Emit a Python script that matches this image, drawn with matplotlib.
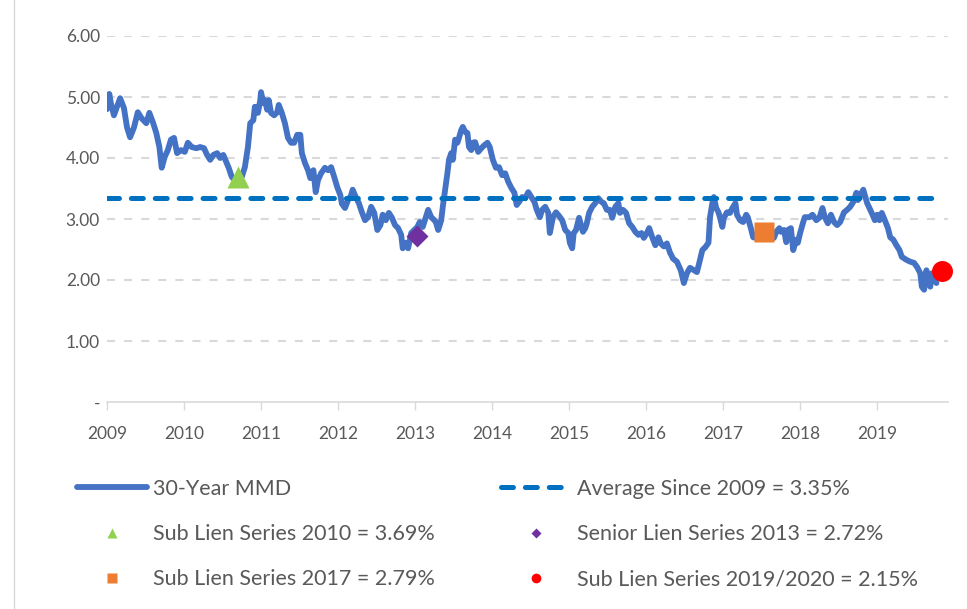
import matplotlib
matplotlib.use('Agg')
import matplotlib.pyplot as plt
from matplotlib.lines import Line2D

# 30-Year MMD (decimal year, yield %)
mmd_year = [
    2009.00, 2009.03, 2009.05, 2009.09, 2009.13, 2009.17, 2009.22, 2009.26, 2009.30, 2009.35,
    2009.40, 2009.45, 2009.51, 2009.55, 2009.60, 2009.64, 2009.68, 2009.71, 2009.75, 2009.79,
    2009.83, 2009.87, 2009.91, 2009.96, 2010.01, 2010.05, 2010.10, 2010.16, 2010.21, 2010.26,
    2010.30, 2010.34, 2010.38, 2010.43, 2010.47, 2010.51, 2010.55, 2010.58, 2010.62, 2010.66,
    2010.71, 2010.75, 2010.79, 2010.83, 2010.86, 2010.90, 2010.92, 2010.96, 2010.99, 2011.00,
    2011.03, 2011.05, 2011.08, 2011.10, 2011.13, 2011.17, 2011.21, 2011.23, 2011.27, 2011.31,
    2011.35, 2011.39, 2011.43, 2011.47, 2011.51, 2011.53, 2011.57, 2011.61, 2011.64, 2011.68,
    2011.71, 2011.74, 2011.78, 2011.83, 2011.87, 2011.91, 2011.95, 2011.99, 2012.03, 2012.05,
    2012.09, 2012.13, 2012.17, 2012.19, 2012.23, 2012.27, 2012.31, 2012.35, 2012.39, 2012.43,
    2012.47, 2012.51, 2012.55, 2012.58, 2012.62, 2012.66, 2012.70, 2012.74, 2012.78, 2012.82,
    2012.84, 2012.88, 2012.91, 2012.95, 2012.99, 2013.03, 2013.06, 2013.10, 2013.14, 2013.17,
    2013.21, 2013.25, 2013.27, 2013.30, 2013.34, 2013.36, 2013.39, 2013.42, 2013.44, 2013.47,
    2013.49, 2013.52, 2013.55, 2013.57, 2013.60, 2013.62, 2013.65, 2013.68, 2013.70, 2013.73,
    2013.75, 2013.78, 2013.82, 2013.86, 2013.90, 2013.94, 2013.97, 2014.01, 2014.05, 2014.09,
    2014.13, 2014.17, 2014.21, 2014.25, 2014.29, 2014.32, 2014.35, 2014.39, 2014.43, 2014.47,
    2014.51, 2014.55, 2014.58, 2014.62, 2014.65, 2014.69, 2014.73, 2014.75, 2014.79, 2014.83,
    2014.87, 2014.91, 2014.95, 2014.99, 2015.01, 2015.04, 2015.06, 2015.09, 2015.13, 2015.16,
    2015.18, 2015.21, 2015.23, 2015.26, 2015.30, 2015.34, 2015.38, 2015.42, 2015.45, 2015.49,
    2015.53, 2015.56, 2015.60, 2015.64, 2015.66, 2015.70, 2015.74, 2015.78, 2015.82, 2015.86,
    2015.90, 2015.94, 2015.97, 2016.01, 2016.04, 2016.08, 2016.12, 2016.16, 2016.19, 2016.23,
    2016.27, 2016.31, 2016.35, 2016.40, 2016.45, 2016.49, 2016.53, 2016.57, 2016.62, 2016.66,
    2016.69, 2016.73, 2016.77, 2016.81, 2016.83, 2016.86, 2016.88, 2016.91, 2016.94, 2016.96,
    2016.99, 2017.01, 2017.05, 2017.09, 2017.12, 2017.16, 2017.18, 2017.22, 2017.26, 2017.30,
    2017.32, 2017.36, 2017.39, 2017.43, 2017.48, 2017.53, 2017.58, 2017.64, 2017.66, 2017.69,
    2017.73, 2017.75, 2017.79, 2017.82, 2017.84, 2017.88, 2017.91, 2017.95, 2017.97, 2018.00,
    2018.04, 2018.06, 2018.12, 2018.16, 2018.21, 2018.25, 2018.29, 2018.32, 2018.36, 2018.40,
    2018.44, 2018.48, 2018.52, 2018.57, 2018.61, 2018.65, 2018.69, 2018.73, 2018.75, 2018.78,
    2018.82, 2018.84, 2018.87, 2018.91, 2018.94, 2018.97, 2019.00, 2019.03, 2019.06, 2019.10,
    2019.14, 2019.17, 2019.21, 2019.25, 2019.29, 2019.32, 2019.38, 2019.43, 2019.48, 2019.52,
    2019.56, 2019.58, 2019.61, 2019.64, 2019.66, 2019.69, 2019.71, 2019.74, 2019.77,
]
mmd_rate = [
    4.80, 5.05, 4.90, 4.70, 4.84, 4.98, 4.82, 4.50, 4.34, 4.50,
    4.75, 4.65, 4.57, 4.74, 4.57, 4.41, 4.18, 3.84, 4.02, 4.13,
    4.30, 4.33, 4.08, 4.13, 4.10, 4.25, 4.18, 4.16, 4.18, 4.16,
    4.05, 3.97, 4.05, 4.08, 4.00, 4.05, 3.93, 3.84, 3.69, 3.64,
    3.64, 3.69, 3.85, 4.18, 4.57, 4.62, 4.84, 4.74, 4.95, 5.08,
    4.90, 4.95, 4.79, 4.95, 4.74, 4.70, 4.75, 4.87, 4.74, 4.57,
    4.33, 4.25, 4.25, 4.38, 4.38, 4.08, 3.92, 3.80, 3.67, 3.80,
    3.44, 3.64, 3.75, 3.84, 3.80, 3.85, 3.69, 3.52, 3.39, 3.25,
    3.18, 3.31, 3.39, 3.48, 3.36, 3.26, 3.11, 2.98, 3.03, 3.20,
    3.10, 2.82, 2.90, 3.07, 2.98, 3.10, 3.02, 2.90, 2.85, 2.74,
    2.52, 2.61, 2.52, 2.77, 2.82, 2.87, 2.95, 2.87, 3.03, 3.15,
    3.03, 2.98, 2.95, 2.82, 2.98, 3.20, 3.48, 3.75, 3.97, 4.08,
    3.97, 4.30, 4.25, 4.33, 4.46, 4.51, 4.43, 4.41, 4.18, 4.13,
    4.25, 4.26, 4.10, 4.16, 4.21, 4.25, 4.18, 3.97, 3.84, 3.85,
    3.72, 3.75, 3.61, 3.51, 3.43, 3.23, 3.28, 3.36, 3.34, 3.44,
    3.36, 3.28, 3.15, 3.03, 3.15, 3.20, 3.10, 2.77, 3.03, 3.11,
    3.05, 2.98, 2.82, 2.77, 2.61, 2.52, 2.77, 2.82, 3.02, 2.87,
    2.79, 2.85, 2.93, 3.10, 3.20, 3.26, 3.34, 3.28, 3.26, 3.15,
    3.15, 3.02, 3.20, 3.26, 3.10, 3.15, 3.10, 2.93, 2.87, 2.79,
    2.74, 2.77, 2.69, 2.77, 2.85, 2.70, 2.57, 2.70, 2.60, 2.55,
    2.60, 2.45, 2.35, 2.30, 2.16, 1.95, 2.11, 2.20, 2.16, 2.13,
    2.28, 2.49, 2.54, 2.61, 3.03, 3.26, 3.36, 3.18, 3.11, 3.02,
    2.87, 3.02, 3.11, 3.10, 3.18, 3.26, 3.07, 2.98, 2.95, 3.07,
    3.03, 2.85, 2.70, 2.69, 2.75, 2.78, 2.76, 2.72, 2.69, 2.79,
    2.85, 2.79, 2.82, 2.62, 2.82, 2.85, 2.49, 2.66, 2.61, 2.77,
    2.95, 3.03, 3.03, 3.07, 2.98, 3.02, 3.18, 3.03, 2.93, 3.07,
    2.95, 2.90, 2.95, 3.11, 3.15, 3.20, 3.28, 3.43, 3.31, 3.39,
    3.48, 3.39, 3.26, 3.15, 3.07, 2.98, 3.07, 2.98, 3.10, 2.98,
    2.85, 2.70, 2.66, 2.57, 2.49, 2.38, 2.33, 2.30, 2.28, 2.21,
    2.11, 1.89, 1.84, 2.16, 2.00, 1.89, 2.11, 2.00, 1.95,
]

avg_years = [2009.0, 2019.83]
avg_rate = 3.35

# issuance markers
issue_labels = ['Sub Lien Series 2010 = 3.69%', 'Senior Lien Series 2013 = 2.72%',
                'Sub Lien Series 2017 = 2.79%', 'Sub Lien Series 2019/2020 = 2.15%']
issue_year = [2010.70, 2013.03, 2017.53, 2019.84]
issue_rate = [3.69, 2.72, 2.79, 2.15]
issue_marker = ['^', 'D', 's', 'o']
issue_color = ['#92D050', '#7030A0', '#ED7D31', '#FF0000']
issue_size = [15.8, 10.7, 13.7, 15.1]
legend_size = [7, 5, 6.5, 7]

yticks = [0, 1, 2, 3, 4, 5, 6]
ytick_labels = ['-', '1.00', '2.00', '3.00', '4.00', '5.00', '6.00']
xyears = list(range(2009, 2020))

plt.rcParams['font.family'] = ['Lato', 'DejaVu Sans']
plt.rcParams['lines.scale_dashes'] = False
txt = '#595959'

fig = plt.figure(figsize=(9.67, 6.09), dpi=100)
ax = fig.add_axes([107/967, 1 - 402/609, (948 - 107)/967, (402 - 36)/609])

for v in yticks[1:]:
    ax.axhline(v, color='#D9D9D9', lw=1.5, ls=(0, (5.8, 6.5)), zorder=0)

mmd_line, = ax.plot(mmd_year, mmd_rate, color='#4472C4', lw=4.2,
                    solid_joinstyle='round', solid_capstyle='round', zorder=2)
avg_line, = ax.plot(avg_years, [avg_rate, avg_rate], color='#0070C0', lw=3.6,
                    ls=(0, (8.6, 8.6)), dash_capstyle='round', zorder=3)

handles = []
for i in range(len(issue_year)):
    ax.plot(issue_year[i], issue_rate[i], marker=issue_marker[i], ms=issue_size[i],
            color=issue_color[i], mec='none', ls='none', zorder=4, clip_on=False)
    handles.append(Line2D([], [], marker=issue_marker[i], ms=legend_size[i],
                          color=issue_color[i], mec='none', ls='none'))

ax.set_xlim(2009, 2019.92)
ax.set_ylim(0, 6)
ax.set_yticks(yticks)
ax.set_yticklabels(ytick_labels)
ax.set_xticks(xyears)
ax.set_xticklabels([str(y) for y in xyears])
ax.tick_params(axis='y', length=0, pad=5, labelsize=12.5, labelcolor=txt)
ax.tick_params(axis='x', length=6, width=1, color='#D9D9D9', pad=11,
               labelsize=12.5, labelcolor=txt)
for s in ['top', 'right', 'left']:
    ax.spines[s].set_visible(False)
ax.spines['bottom'].set_color('#D9D9D9')
ax.spines['bottom'].set_linewidth(1.2)

leg_h = [mmd_line, handles[0], handles[2], avg_line, handles[1], handles[3]]
leg_l = ['30-Year MMD', issue_labels[0], issue_labels[2],
         'Average Since 2009 = 3.35%', issue_labels[1], issue_labels[3]]
leg = fig.legend(leg_h, leg_l, ncol=2, loc='upper left', bbox_to_anchor=(77/967, 1 - 479/609),
                 frameon=False, fontsize=15.5, handlelength=3.25, handletextpad=0.3,
                 labelspacing=1.17, columnspacing=3.05, borderaxespad=0, borderpad=0)
for t in leg.get_texts():
    t.set_color(txt)

# faint chart border on the left
fig.add_artist(Line2D([14/967, 14/967], [0, 1], color='#D9D9D9', lw=1))

fig.savefig('out.png', dpi=100)
